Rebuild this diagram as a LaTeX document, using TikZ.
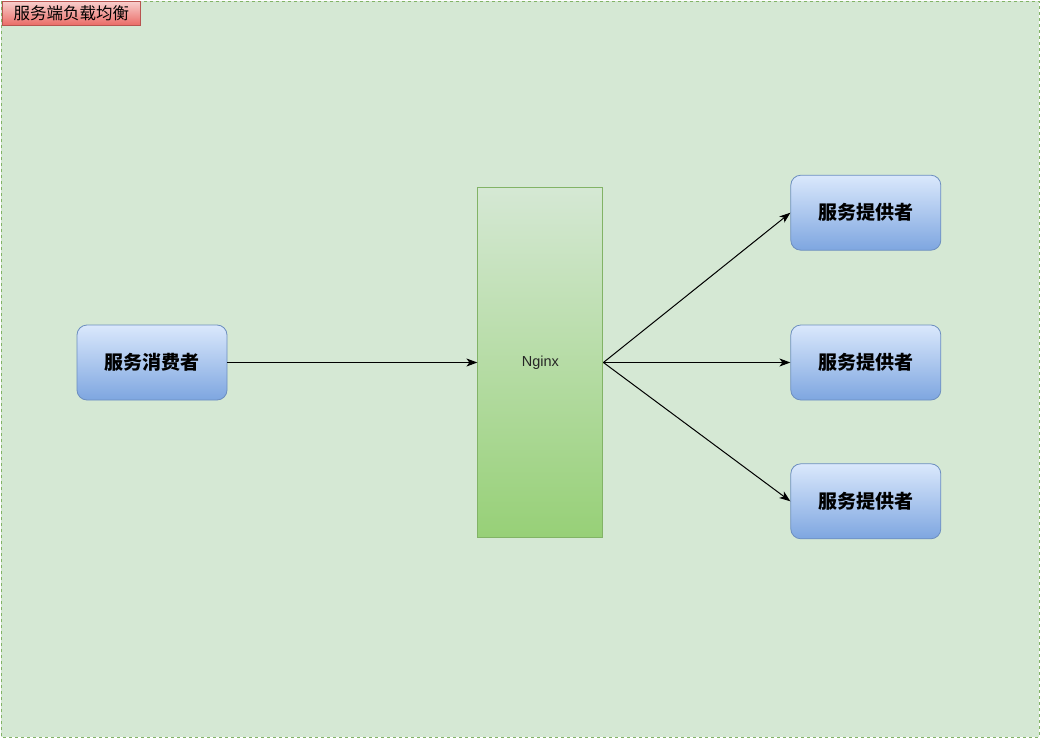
\documentclass[tikz,border=0pt]{standalone}
\usepackage{fontspec}
\setmainfont{Liberation Sans}
\newfontfamily\cjk{Noto Sans CJK SC}
\usepackage{tikz}
\usetikzlibrary{shapes,arrows.meta,positioning,calc}
\definecolor{groupfill}{RGB}{213,232,212}
\definecolor{groupline}{RGB}{130,179,102}
\definecolor{nginxbottom}{RGB}{151,208,119}
\definecolor{nodetop}{RGB}{218,232,252}
\definecolor{nodebottom}{RGB}{126,166,224}
\definecolor{nodeline}{RGB}{108,142,191}
\definecolor{titletop}{RGB}{248,206,204}
\definecolor{titlebottom}{RGB}{234,107,102}
\definecolor{titleline}{RGB}{184,84,80}

\begin{document}
\begin{tikzpicture}[
    x=1pt, y=1pt,
    node distance=75pt,
    service/.style={rectangle, draw=nodeline, line width=0.8pt, top color=nodetop, bottom color=nodebottom, rounded corners=10pt, minimum width=150pt, minimum height=75pt, font=\cjk\bfseries\fontsize{19}{22}\selectfont},
    proxy/.style={rectangle, draw=groupline, line width=1pt, top color=groupfill, bottom color=nginxbottom, minimum width=125pt, minimum height=350pt, font=\fontsize{14.5}{17}\selectfont, text=black!85},
    label/.style={rectangle, draw=titleline, line width=0.8pt, top color=titletop, bottom color=titlebottom, minimum width=138pt, minimum height=24pt, inner sep=0pt, font=\cjk\fontsize{16.5}{18}\selectfont},
    arrow/.style={line width=1pt, -{Stealth[length=11pt, width=8pt, inset=3pt]}}
]

% Group area
\draw[groupline, fill=groupfill, dashed, line width=0.8pt] (1,-1) rectangle (1039,-737);
\useasboundingbox (0,0) rectangle (1040,-738);
\node[label, anchor=north west] (title) at (2,-1) {服务端负载均衡};

% Consumer
\node[service] (consumer) at (152,-362.5) {服务消费者};

% Nginx
\node[proxy, right=250pt of consumer] (nginx) {Nginx};

% Providers
\node[service, right=187pt of nginx] (p2) {服务提供者};
\node[service, above=74pt of p2] (p1) {服务提供者};
\node[service, below=63pt of p2] (p3) {服务提供者};

% Arrows
\draw[arrow] (consumer) -- (nginx);
\draw[arrow] (nginx.east) -- (p1.west);
\draw[arrow] (nginx.east) -- (p2.west);
\draw[arrow] (nginx.east) -- (p3.west);

\end{tikzpicture}
\end{document}
